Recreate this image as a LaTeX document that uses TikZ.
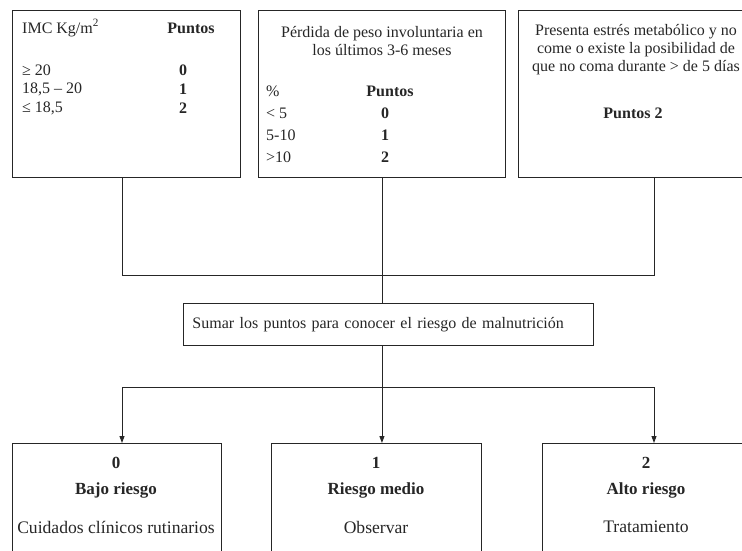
\documentclass[tikz,border=0pt]{standalone}
\usepackage{fontspec}
\setmainfont{Liberation Serif}
\usetikzlibrary{arrows.meta}
\begin{document}
\begin{tikzpicture}[x=1pt,y=-1pt,
  box/.style={draw=black!85, line width=0.9pt, inner sep=0pt},
  txt/.style={font=\fontsize{16}{18}\selectfont, text=black!85, inner sep=0pt},
  btxt/.style={font=\fontsize{16}{18}\selectfont\bfseries, text=black!85, inner sep=0pt},
  bigtxt/.style={font=\fontsize{17.6}{19}\selectfont, text=black!85, inner sep=0pt},
  bigbtxt/.style={font=\fontsize{17}{19}\selectfont\bfseries, text=black!85, inner sep=0pt},
  conn/.style={draw=black!85, line width=0.9pt},
  arr/.style={conn, -{Triangle[length=7pt,width=5pt]}}
]
\clip (0,0) rectangle (742,551);
\useasboundingbox (0,0) rectangle (742,551);
% top boxes
\node[box, minimum width=228, minimum height=167, anchor=north west] (b1) at (12,10) {};
\node[box, minimum width=247, minimum height=167, anchor=north west] (b2) at (258,10) {};
\node[box, minimum width=242, minimum height=167, anchor=north west] (b3) at (518,10) {};
% box 1 texts
\node[txt, anchor=west] (imc) at (22,28) {IMC Kg/m\textsuperscript{2}};
\node[btxt] (p1) at (191,28) {Puntos};
\node[txt, anchor=west] (r11) at (22,70) {≥ 20};
\node[txt, anchor=west] (r12) at (22,89) {18,5 – 20};
\node[txt, anchor=west] (r13) at (22,108) {≤ 18,5};
\node[btxt] (n11) at (183,70) {0};
\node[btxt] (n12) at (183,89) {1};
\node[btxt] (n13) at (183,108) {2};
% box 2 texts
\node[txt, align=center] (t2) at (382,41) {Pérdida de peso involuntaria en\\los últimos 3-6 meses};
\node[txt, anchor=west] (pc) at (266,91) {\%};
\node[btxt] (p2) at (390,91) {Puntos};
\node[txt, anchor=west] (r21) at (266,113) {< 5};
\node[txt, anchor=west] (r22) at (266,135) {5-10};
\node[txt, anchor=west] (r23) at (266,157) {>10};
\node[btxt] (n21) at (385,113) {0};
\node[btxt] (n22) at (385,135) {1};
\node[btxt] (n23) at (385,157) {2};
% box 3 texts
\node[txt, align=center] (t3) at (636,50) {Presenta estrés metabólico y no\\come o existe la posibilidad de\\que no coma durante > de 5 días};
\node[btxt] (p3) at (633,113) {Puntos 2};
% sum box
\node[box, minimum width=410, minimum height=42, anchor=north west, text width=392, align=left, inner xsep=9pt, txt] (sumar) at (183,303) {Sumar los puntos para conocer el riesgo de malnutrición};
% bottom boxes
\node[box, minimum width=209, minimum height=160, anchor=north west] (ba) at (12,443) {};
\node[box, minimum width=210, minimum height=160, anchor=north west] (bb) at (271,443) {};
\node[box, minimum width=208, minimum height=160, anchor=north west] (bc) at (542,443) {};
\node[bigbtxt] (a0) at (116,463) {0};
\node[bigbtxt] (a1) at (116,490) {Bajo riesgo};
\node[bigtxt] (a2) at (116,527) {Cuidados clínicos rutinarios};
\node[bigbtxt] (b0) at (376,463) {1};
\node[bigbtxt] (b1t) at (376,490) {Riesgo medio};
\node[bigtxt] (b2t) at (376,527) {Observar};
\node[bigbtxt] (c0) at (646,463) {2};
\node[bigbtxt] (c1) at (646,490) {Alto riesgo};
\node[bigtxt] (c2) at (646,527) {Tratamiento};
% connectors
\coordinate (h1) at (122,275);
\coordinate (h3) at (654,275);
\coordinate (l1) at (122,387);
\coordinate (l3) at (654,387);
\draw[conn] (b1.south -| h1) -- (h1) -- (h3) -- (b3.south -| h3);
\draw[conn] (b2.south) -- (b2.south |- sumar.north);
\draw[conn] (b2.south |- sumar.south) -- (b2.south |- l1);
\draw[conn] (l1) -- (l3);
\draw[arr] (l1) -- (l1 |- ba.north);
\draw[arr] (b2.south |- l1) -- (b2.south |- bb.north);
\draw[arr] (l3) -- (l3 |- bc.north);
\end{tikzpicture}
\end{document}
